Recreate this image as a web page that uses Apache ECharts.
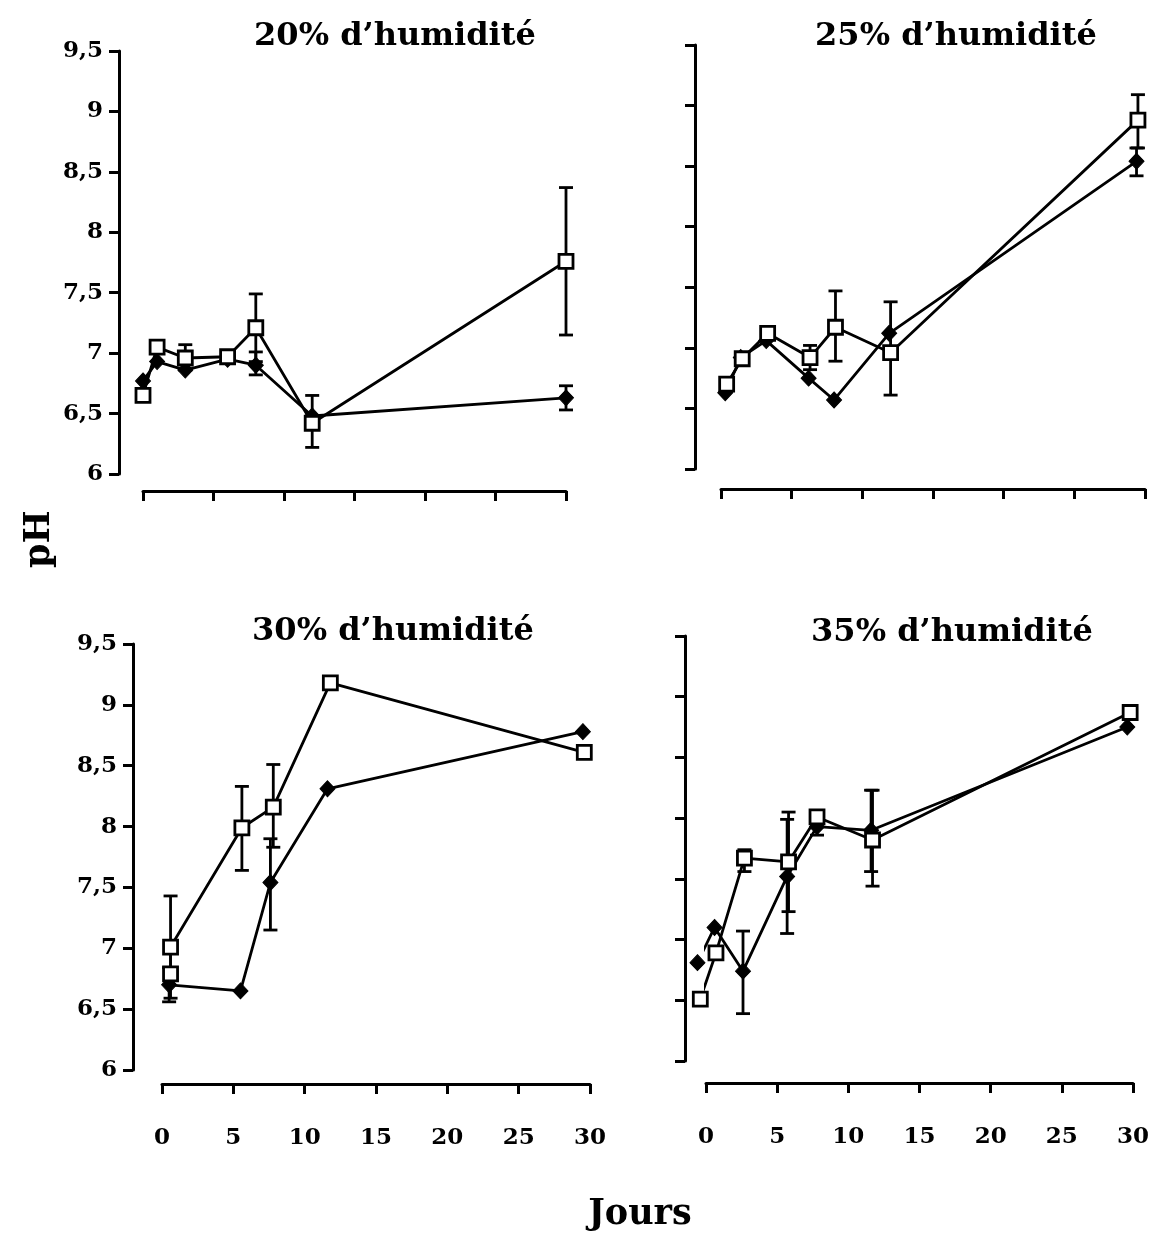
<!DOCTYPE html>
<html>
<head>
<meta charset="utf-8">
<script src="https://cdn.jsdelivr.net/npm/echarts@6/dist/echarts.min.js"></script>
<style>
  html, body { margin: 0; padding: 0; background: #fff; }
  #chart { width: 1153px; height: 1237px; }
</style>
</head>
<body>
<div id="chart"></div>
<script>
// titres des 4 graphes
var titles = ['20% d’humidité', '25% d’humidité', '30% d’humidité', '35% d’humidité'];
var xTicks = [0, 5, 10, 15, 20, 25, 30];
var yTicks = [6, 6.5, 7, 7.5, 8, 8.5, 9, 9.5];

// 20 %
var daysDi20 = [0, 1, 3, 6, 8, 12, 30];
var diam20 = [6.77, 6.93, 6.86, 6.95, 6.90, 6.48, 6.63];
var daysSq20 = [0, 1, 3, 6, 8, 12, 30];
var sq20 = [6.65, 7.05, 6.96, 6.97, 7.21, 6.42, 7.76];
var errSq20 = [[3, 6.86, 7.07], [8, 6.93, 7.49], [12, 6.22, 6.65], [30, 7.15, 8.37]];
var errDi20 = [[8, 6.82, 7.01], [30, 6.53, 6.73]];

// 25 %
var daysDi25 = [0.3, 1.4, 3.2, 6.2, 8.0, 11.9, 29.4];
var diam25 = [6.63, 6.92, 7.06, 6.75, 6.57, 7.12, 8.54];
var daysSq25 = [0.4, 1.5, 3.3, 6.3, 8.1, 12.0, 29.5];
var sq25 = [6.70, 6.91, 7.12, 6.92, 7.17, 6.96, 8.88];
var errSq25 = [[6.3, 6.82, 7.02], [8.1, 6.89, 7.47], [12.0, 6.61, 7.38], [29.5, 8.65, 9.09]];
var errDi25 = [[29.4, 8.42, 8.65]];

// 30 %
var daysDi30 = [0.5, 5.5, 7.6, 11.6, 29.5];
var diam30 = [6.70, 6.65, 7.54, 8.31, 8.78];
var daysSq30 = [0.6, 0.6, 5.6, 7.8, 11.8, 29.6];
var sq30 = [6.79, 7.01, 7.99, 8.16, 9.18, 8.61];
var errSq30 = [[0.6, 6.59, 7.43], [5.6, 7.64, 8.33], [7.8, 7.83, 8.51]];
var errDi30 = [[0.5, 6.56, 6.84], [7.6, 7.15, 7.90]];

// 35 %
var daysDi35 = [-0.6, 0.6, 2.6, 5.7, 7.8, 11.6, 29.6];
var diam35 = [6.81, 7.10, 6.74, 7.52, 7.93, 7.90, 8.75];
var daysSq35 = [-0.4, 0.7, 2.7, 5.8, 7.8, 11.7, 29.8];
var sq35 = [6.51, 6.89, 7.67, 7.64, 8.01, 7.82, 8.87];
var errSq35 = [[2.7, 7.56, 7.74], [5.8, 7.23, 8.05], [11.7, 7.44, 8.23]];
var errDi35 = [[2.6, 6.39, 7.07], [5.7, 7.05, 7.99], [7.8, 7.86, 8.0], [11.6, 7.56, 8.23]];

var panels = [
  {di: [daysDi20, diam20], sq: [daysSq20, sq20], err: errSq20.concat(errDi20),
   grid: {left: 143, top: 51, width: 423, height: 423}, yOff: 24, xOff: 17, labels: [true, false], tx: 390, ty: 35},
  {di: [daysDi25, diam25], sq: [daysSq25, sq25], err: errSq25.concat(errDi25),
   grid: {left: 721, top: 45, width: 424, height: 424}, yOff: 26, xOff: 20, labels: [false, false], tx: 951, ty: 35},
  {di: [daysDi30, diam30], sq: [daysSq30, sq30], err: errSq30.concat(errDi30),
   grid: {left: 162, top: 644, width: 428, height: 426}, yOff: 29, xOff: 14, labels: [true, true], tx: 388, ty: 630},
  {di: [daysDi35, diam35], sq: [daysSq35, sq35], err: errSq35.concat(errDi35),
   grid: {left: 706, top: 636, width: 427, height: 425}, yOff: 21, xOff: 22, labels: [false, true], tx: 947, ty: 631}
];

var font = 'DejaVu Serif';
var ink = '#000';

function pairs(xs, ys) {
  return xs.map(function (x, i) { return [x, ys[i]]; });
}

var option = {
  backgroundColor: '#fff',
  animation: false,
  title: [],
  grid: [],
  xAxis: [],
  yAxis: [],
  series: [],
  graphic: [
    {type: 'text', x: 22, y: 568, rotation: Math.PI / 2,
     style: {text: 'pH', font: 'bold 35px ' + font, fill: ink}},
    {type: 'text', x: 640, y: 1215,
     style: {text: 'Jours', font: 'bold 35px ' + font, fill: ink, align: 'center', verticalAlign: 'middle'}}
  ]
};

panels.forEach(function (p, i) {
  option.title.push({
    text: titles[i], left: p.tx, top: p.ty - 19, textAlign: 'center',
    textStyle: {fontFamily: font, fontWeight: 'bold', fontSize: 32, color: ink}
  });
  option.grid.push(Object.assign({containLabel: false}, p.grid));
  option.xAxis.push({
    type: 'value', gridIndex: i, min: 0, max: 30, interval: 5, offset: p.xOff,
    axisLine: {show: true, onZero: false, lineStyle: {color: ink, width: 3}},
    axisTick: {show: true, length: 10, lineStyle: {color: ink, width: 3}},
    axisLabel: {show: p.labels[1], margin: 43, fontFamily: font, fontWeight: 'bold', fontSize: 23, color: ink},
    splitLine: {show: false}
  });
  option.yAxis.push({
    type: 'value', gridIndex: i, min: 6, max: 9.5, interval: 0.5, offset: p.yOff,
    axisLine: {show: true, onZero: false, lineStyle: {color: ink, width: 3}},
    axisTick: {show: true, length: 10, lineStyle: {color: ink, width: 3}},
    axisLabel: {show: p.labels[0], margin: 16, fontFamily: font, fontWeight: 'bold', fontSize: 23, color: ink,
      formatter: function (v) { return String(v).replace('.', ','); }},
    splitLine: {show: false}
  });
  // barres d'erreur
  option.series.push({
    type: 'custom', xAxisIndex: i, yAxisIndex: i, z: 1,
    data: p.err,
    renderItem: function (params, api) {
      var top = api.coord([api.value(0), api.value(2)]);
      var bot = api.coord([api.value(0), api.value(1)]);
      var w = 7;
      var st = {stroke: ink, lineWidth: 2.8};
      return {type: 'group', children: [
        {type: 'line', shape: {x1: top[0], y1: top[1], x2: bot[0], y2: bot[1]}, style: st},
        {type: 'line', shape: {x1: top[0] - w, y1: top[1], x2: top[0] + w, y2: top[1]}, style: st},
        {type: 'line', shape: {x1: bot[0] - w, y1: bot[1], x2: bot[0] + w, y2: bot[1]}, style: st}
      ]};
    }
  });
  option.series.push({
    type: 'line', xAxisIndex: i, yAxisIndex: i, z: 2, clip: false,
    data: pairs(p.di[0], p.di[1]),
    symbol: 'diamond', symbolSize: [15, 16],
    lineStyle: {color: ink, width: 2.8},
    itemStyle: {color: ink, borderColor: ink, borderWidth: 1}
  });
  option.series.push({
    type: 'line', xAxisIndex: i, yAxisIndex: i, z: 3, clip: false,
    data: pairs(p.sq[0], p.sq[1]),
    symbol: 'rect', symbolSize: 14,
    lineStyle: {color: ink, width: 2.8},
    itemStyle: {color: '#fff', borderColor: ink, borderWidth: 2.8}
  });
});

var myChart = echarts.init(document.getElementById('chart'));
myChart.setOption(option);
window.addEventListener('resize', function () { myChart.resize(); });
</script>
</body>
</html>
